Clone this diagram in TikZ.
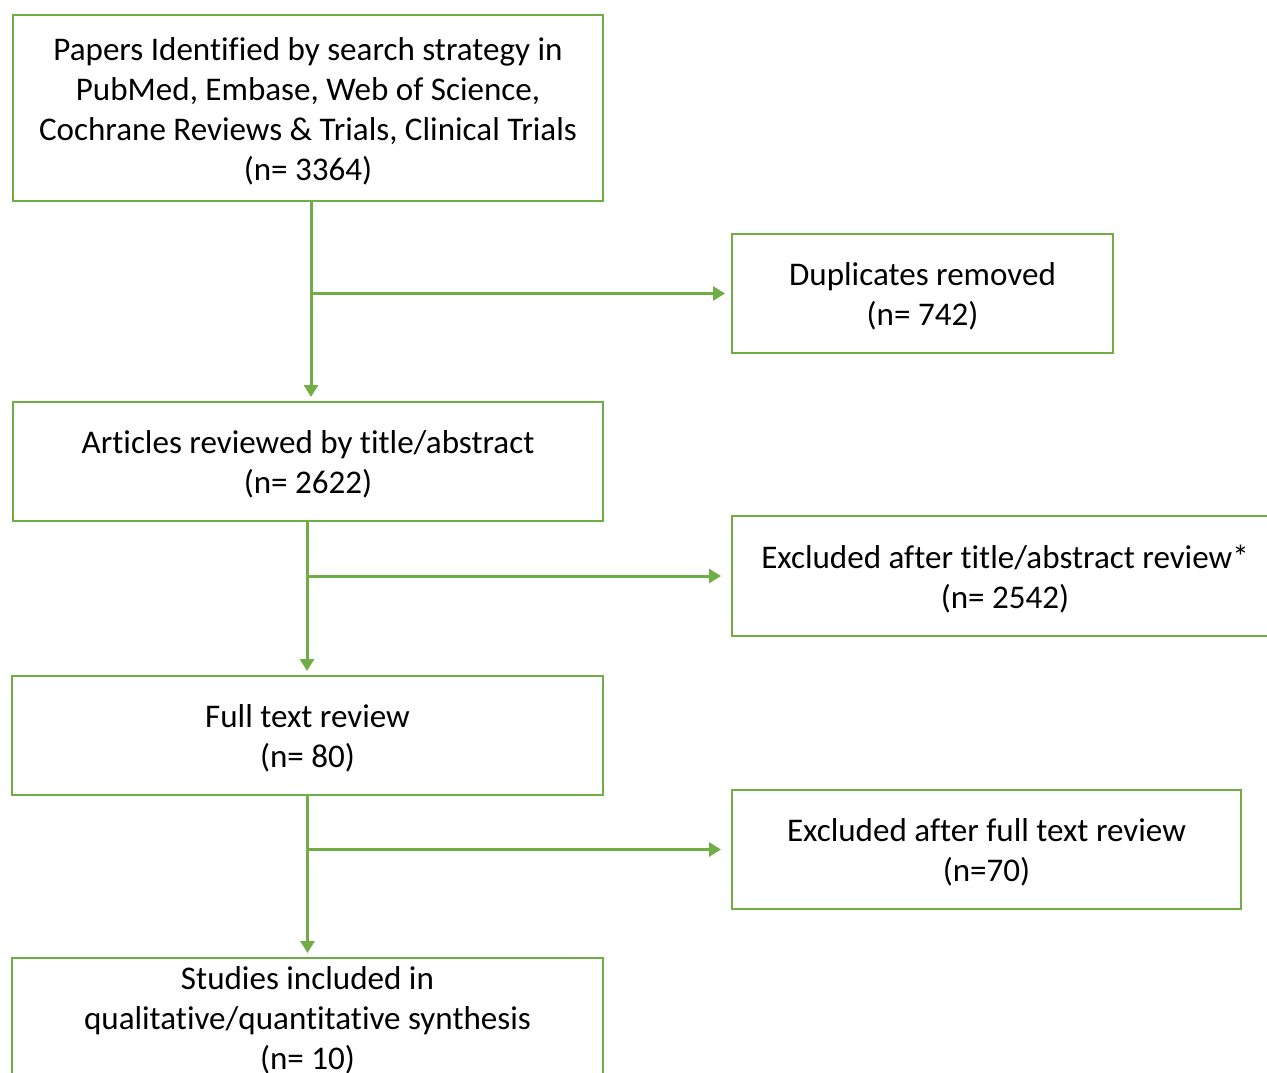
\documentclass[tikz,border=0pt]{standalone}
\usepackage{fontspec}
\setmainfont{Carlito}[Ligatures=CommonOff]
\usetikzlibrary{arrows.meta}
\definecolor{grn}{HTML}{70AD47}
\newcommand{\tfix}{\rule{0pt}{27.5pt}}
\newcommand{\bfix}{\strut}
\begin{document}
\begin{tikzpicture}[x=0.75pt,y=-0.75pt,
  box/.style={draw=grn, line width=1.5pt, fill=white, align=center, inner sep=0pt,
    font=\fontsize{24.8}{30}\selectfont},
  arr/.style={draw=grn, line width=2.25pt, -{Triangle[width=10.5pt,length=9pt]}}]
\useasboundingbox (0,0) rectangle (1267,1073);
\begin{scope}
\clip (0,0) rectangle (1267,1073);
\node[box, minimum width=442.5pt, minimum height=139.5pt] (p1) at (308,108)
  {\tfix Papers Identified by search strategy in\\PubMed, Embase, Web of Science,\\Cochrane Reviews \& Trials, Clinical Trials\\(n= 3364)\bfix};
\node[box, minimum width=285.75pt, minimum height=89.25pt] (dup) at (922.5,293.5)
  {\tfix Duplicates removed\\(n= 742)\bfix};
\node[box, minimum width=442.5pt, minimum height=89.25pt] (p2) at (308,461.5)
  {\tfix Articles reviewed by title/abstract\\(n= 2622)\bfix};
\node[box, minimum width=409.5pt, minimum height=90pt] (ex1) at (1005,576)
  {\tfix Excluded after title/abstract review*\\(n= 2542)\bfix};
\node[box, minimum width=443.25pt, minimum height=89.25pt] (p3) at (307.5,735.5)
  {\tfix Full text review\\(n= 80)\bfix};
\node[box, minimum width=381.75pt, minimum height=89.25pt] (ex2) at (986.5,849.5)
  {\tfix Excluded after full text review\\(n=70)\bfix};
\node[box, minimum width=443.25pt, minimum height=89.25pt, inner ysep=-3.625pt] (p4) at (307.5,1017.5)
  {\tfix Studies included in\\qualitative/quantitative synthesis\\(n= 10)\bfix};
\end{scope}
\draw[arr, shorten >=3pt] ([xshift=2.25pt]p1.south) -- ([xshift=2.25pt]p2.north);
\draw[arr, shorten >=4.5pt] ([xshift=2.25pt]p1.south |- dup.west) -- (dup.west);
\draw[arr, shorten >=3pt] ([xshift=-0.75pt]p2.south) -- ([xshift=-0.75pt]p2.south |- p3.north);
\draw[arr, shorten >=7.5pt] ([xshift=-0.75pt]p2.south |- ex1.west) -- (ex1.west);
\draw[arr, shorten >=3pt] (p3.south) -- (p3.south |- p4.north);
\draw[arr, shorten >=7.5pt] (p3.south |- ex2.west) -- (ex2.west);
\end{tikzpicture}
\end{document}
